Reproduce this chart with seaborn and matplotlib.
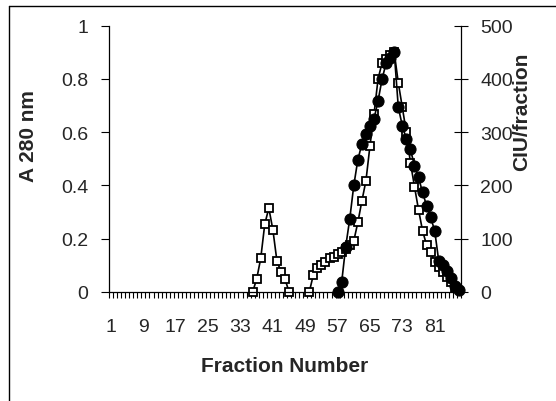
import numpy as np
import pandas as pd
import matplotlib
matplotlib.use("Agg")
import matplotlib.pyplot as plt
import seaborn as sns
from matplotlib.lines import Line2D

# A 280 nm (open squares), two runs of fractions
a280_frac_1 = list(range(36, 46))
a280_vals_1 = [0, 0.049, 0.126, 0.255, 0.315, 0.234, 0.117, 0.076, 0.049, 0]
a280_frac_2 = list(range(50, 87))
a280_vals_2 = [0, 0.064, 0.089, 0.101, 0.113, 0.126, 0.133, 0.143, 0.149, 0.161,
               0.175, 0.192, 0.261, 0.342, 0.417, 0.549, 0.668, 0.80, 0.861, 0.875,
               0.89, 0.90,
               0.786, 0.693, 0.599, 0.486, 0.396, 0.309, 0.230, 0.176, 0.149, 0.111,
               0.093, 0.074, 0.055, 0.036, 0.015]

# CIU/fraction (filled circles)
ciu_frac = list(range(57, 88))
ciu_vals = [0, 18, 85, 137, 200, 248, 278, 296, 312, 325, 359, 400, 430, 440, 450,
            347, 312, 287, 268, 237, 215, 187, 162, 140, 115,
            58, 50, 40, 27, 12, 3]

n_fractions = 87
x_labels = list(range(1, 82, 8))
left_ticks = [0, 0.2, 0.4, 0.6, 0.8, 1]
left_labels = ["0", "0.2", "0.4", "0.6", "0.8", "1"]
right_ticks = [0, 100, 200, 300, 400, 500]

a280 = pd.DataFrame({
    "frac": a280_frac_1 + a280_frac_2,
    "a280": a280_vals_1 + a280_vals_2,
    "seg": [1] * len(a280_frac_1) + [2] * len(a280_frac_2),
})
ciu = pd.DataFrame({"frac": ciu_frac, "ciu": ciu_vals})

sns.set_style("white")
plt.rcParams["font.family"] = ["Liberation Sans", "DejaVu Sans"]

W, H = 556, 402
fig = plt.figure(figsize=(W / 100, H / 100), dpi=100)
ax = fig.add_axes([109 / W, 1 - 293 / H, (461 - 109) / W, (293 - 26.7) / H])
ax2 = ax.twinx()

sns.lineplot(data=a280, x="frac", y="a280", units="seg", estimator=None, ax=ax,
             color="black", linewidth=1.2, marker="s", markersize=6.2,
             markerfacecolor="white", markeredgecolor="black", markeredgewidth=1.3,
             clip_on=False, legend=False)
sns.lineplot(data=ciu, x="frac", y="ciu", ax=ax2, color="black", linewidth=1.2,
             marker="o", markersize=8, markeredgecolor="black",
             clip_on=False, legend=False)

ax.set_xlim(0.5, n_fractions + 0.5)
ax.set_ylim(0, 1)
ax2.set_ylim(0, 500)

ax.set_xticks(x_labels)
ax.set_xticklabels([str(v) for v in x_labels], fontsize=14)
ax.set_xticks(np.arange(0.5, n_fractions + 1, 1), minor=True)
ax.tick_params(axis="x", which="major", length=0, pad=19)
ax.tick_params(axis="x", which="minor", length=4, width=0.8, direction="out",
               bottom=True, color="black")

ax.set_yticks(left_ticks)
ax.set_yticklabels(left_labels, fontsize=14)
ax.tick_params(axis="y", length=6, width=0.8, direction="out", pad=9, left=True,
               color="black")
ax2.set_yticks(right_ticks)
ax2.set_yticklabels([str(v) for v in right_ticks], fontsize=14)
ax2.tick_params(axis="y", length=10, width=0.8, direction="inout", pad=9,
                right=True, color="black")

for a in (ax, ax2):
    for s in a.spines.values():
        s.set_visible(False)
        s.set_color("black")
        s.set_linewidth(0.9)
ax.spines["left"].set_visible(True)
ax.spines["bottom"].set_visible(True)
ax2.spines["right"].set_visible(True)

ax.set_xlabel("")
ax.set_ylabel("")
ax2.set_ylabel("")

fig.text(28 / W, 1 - 136 / H, "A 280 nm", rotation=90, fontsize=15,
         fontweight="bold", ha="center", va="center")
fig.text(522 / W, 1 - 112 / H, "CIU/fraction", rotation=90, fontsize=15,
         fontweight="bold", ha="center", va="center")
fig.text(285 / W, 1 - 367 / H, "Fraction Number", fontsize=15,
         fontweight="bold", ha="center", va="center")

# chart frame (only top and left edges fall inside the picture)
fig.add_artist(Line2D([9 / W, 1], [1 - 7 / H, 1 - 7 / H], transform=fig.transFigure,
                      color="black", linewidth=1))
fig.add_artist(Line2D([9 / W, 9 / W], [0, 1 - 7 / H], transform=fig.transFigure,
                      color="black", linewidth=1))

fig.savefig("out.png", dpi=100)
